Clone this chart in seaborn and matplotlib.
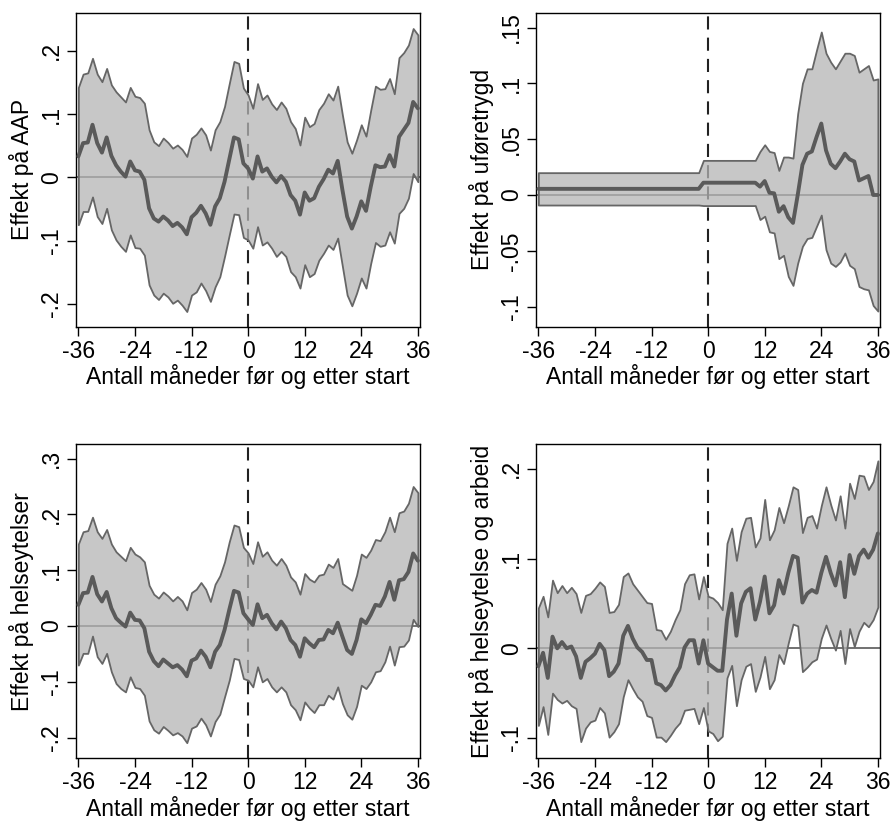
import matplotlib
matplotlib.use("Agg")
import matplotlib.pyplot as plt
import pandas as pd
import seaborn as sns

# Months relative to programme start
months = list(range(-36, 37))

# --- Effekt på AAP ---
aap_est = [0.033, 0.054, 0.055, 0.083, 0.054, 0.039, 0.063, 0.034, 0.019, 0.009, 0.001, 0.025, 0.011, 0.009, -0.004,
           -0.049, -0.065, -0.070, -0.062, -0.068, -0.077, -0.072, -0.079, -0.090,
           -0.063, -0.056, -0.045, -0.057, -0.075, -0.046, -0.033, -0.007, 0.028, 0.063, 0.060, 0.022, 0.014,
           -0.002, 0.033, 0.009, 0.014, 0.001, -0.008, 0.002, -0.007, -0.028, -0.037, -0.059, -0.024,
           -0.037, -0.033, -0.015, -0.003, 0.012, 0.006, 0.026, -0.020, -0.062, -0.081, -0.062, -0.038,
           -0.053, -0.015, 0.019, 0.016, 0.017, 0.035, 0.017, 0.064, 0.075, 0.086, 0.119, 0.109]
aap_hi = [0.142, 0.163, 0.165, 0.188, 0.163, 0.151, 0.172, 0.146, 0.135, 0.127, 0.119, 0.142, 0.128, 0.126, 0.117,
          0.075, 0.056, 0.050, 0.062, 0.055, 0.046, 0.051, 0.044, 0.033,
          0.062, 0.068, 0.078, 0.067, 0.043, 0.075, 0.088, 0.112, 0.148, 0.183, 0.180, 0.141, 0.130,
          0.109, 0.148, 0.123, 0.130, 0.116, 0.107, 0.119, 0.109, 0.088, 0.077, 0.051, 0.095,
          0.080, 0.085, 0.107, 0.117, 0.132, 0.122, 0.144, 0.098, 0.056, 0.038, 0.059, 0.083,
          0.065, 0.106, 0.144, 0.139, 0.140, 0.156, 0.132, 0.189, 0.197, 0.209, 0.235, 0.225]
aap_lo = [-0.075, -0.054, -0.054, -0.031, -0.062, -0.073, -0.049, -0.083, -0.099, -0.109, -0.117, -0.091, -0.111, -0.112, -0.123,
          -0.170, -0.186, -0.193, -0.183, -0.189, -0.199, -0.194, -0.202, -0.212,
          -0.186, -0.181, -0.167, -0.179, -0.196, -0.173, -0.157, -0.125, -0.091, -0.058, -0.059, -0.095, -0.099,
          -0.112, -0.078, -0.107, -0.102, -0.112, -0.125, -0.117, -0.125, -0.149, -0.157, -0.175, -0.138,
          -0.157, -0.152, -0.131, -0.120, -0.107, -0.114, -0.096, -0.141, -0.186, -0.203, -0.183, -0.159,
          -0.175, -0.136, -0.103, -0.109, -0.107, -0.086, -0.104, -0.057, -0.049, -0.033, 0.006, -0.007]

# --- Effekt på uføretrygd ---
ufor_est = [0.0055, 0.0055, 0.0055, 0.0055, 0.0055, 0.0055, 0.0055, 0.0055, 0.0055, 0.0055, 0.0055, 0.0055,
            0.0055, 0.0055, 0.0055, 0.0055, 0.0055, 0.0055, 0.0055, 0.0055, 0.0055, 0.0055, 0.0055, 0.0055,
            0.0055, 0.0055, 0.0055, 0.0055, 0.0055, 0.0055, 0.0055, 0.0055, 0.0055, 0.0055, 0.0055,
            0.011, 0.011, 0.011, 0.011, 0.011, 0.011, 0.011, 0.011, 0.011, 0.011, 0.011, 0.011,
            0.0075, 0.0125, 0.002, 0.0015, -0.015, -0.010, -0.020, -0.025, 0.000, 0.027, 0.037, 0.039,
            0.052, 0.064, 0.040, 0.028, 0.024, 0.030, 0.037, 0.032, 0.030, 0.013, 0.015, 0.017, 0.000, 0.000]
ufor_hi = [0.020, 0.020, 0.020, 0.020, 0.020, 0.020, 0.020, 0.020, 0.020, 0.020, 0.020, 0.020,
           0.020, 0.020, 0.020, 0.020, 0.020, 0.020, 0.020, 0.020, 0.020, 0.020, 0.020, 0.020,
           0.020, 0.020, 0.020, 0.020, 0.020, 0.020, 0.020, 0.020, 0.020, 0.020, 0.020,
           0.031, 0.031, 0.031, 0.031, 0.031, 0.031, 0.031, 0.031, 0.031, 0.031, 0.031, 0.031,
           0.039, 0.045, 0.039, 0.038, 0.022, 0.034, 0.034, 0.033, 0.073, 0.100, 0.113, 0.113,
           0.130, 0.146, 0.127, 0.119, 0.113, 0.120, 0.127, 0.127, 0.125, 0.110, 0.113, 0.116, 0.103, 0.104]
ufor_lo = [-0.009, -0.009, -0.009, -0.009, -0.009, -0.009, -0.009, -0.009, -0.009, -0.009, -0.009, -0.009,
           -0.009, -0.009, -0.009, -0.009, -0.009, -0.009, -0.009, -0.009, -0.009, -0.009, -0.009, -0.009,
           -0.009, -0.009, -0.009, -0.009, -0.009, -0.009, -0.009, -0.009, -0.009, -0.009, -0.009,
           -0.0095, -0.0095, -0.0095, -0.0095, -0.0095, -0.0095, -0.0095, -0.0095, -0.0095, -0.0095, -0.0095, -0.0095,
           -0.022, -0.019, -0.033, -0.034, -0.057, -0.054, -0.073, -0.081, -0.061, -0.046, -0.039, -0.038,
           -0.028, -0.018, -0.049, -0.061, -0.064, -0.060, -0.052, -0.063, -0.066, -0.082, -0.084, -0.085, -0.099, -0.104]

# --- Effekt på helseytelser ---
helse_est = [0.038, 0.059, 0.060, 0.088, 0.057, 0.044, 0.061, 0.032, 0.014, 0.006, -0.001, 0.024, 0.011, 0.010, -0.004,
             -0.046, -0.063, -0.072, -0.060, -0.067, -0.074, -0.070, -0.078, -0.090,
             -0.062, -0.058, -0.044, -0.055, -0.074, -0.046, -0.034, -0.007, 0.029, 0.063, 0.060, 0.023, 0.012,
             0.002, 0.039, 0.014, 0.020, 0.005, -0.006, 0.008, -0.004, -0.025, -0.034, -0.055, -0.022,
             -0.031, -0.038, -0.025, -0.024, -0.007, -0.013, 0.006, -0.019, -0.043, -0.050, -0.025, 0.012,
             0.005, 0.020, 0.038, 0.036, 0.053, 0.079, 0.047, 0.082, 0.084, 0.097, 0.130, 0.117]
helse_hi = [0.147, 0.169, 0.171, 0.195, 0.169, 0.157, 0.173, 0.147, 0.133, 0.125, 0.117, 0.141, 0.129, 0.124, 0.115,
            0.073, 0.057, 0.050, 0.061, 0.054, 0.045, 0.053, 0.045, 0.029,
            0.060, 0.066, 0.078, 0.066, 0.044, 0.075, 0.090, 0.115, 0.151, 0.181, 0.178, 0.141, 0.131,
            0.112, 0.151, 0.125, 0.133, 0.118, 0.109, 0.121, 0.109, 0.088, 0.079, 0.057, 0.094,
            0.084, 0.079, 0.091, 0.093, 0.111, 0.105, 0.121, 0.076, 0.070, 0.064, 0.091, 0.129,
            0.123, 0.136, 0.155, 0.153, 0.169, 0.195, 0.169, 0.203, 0.206, 0.220, 0.250, 0.239]
helse_lo = [-0.070, -0.049, -0.049, -0.018, -0.055, -0.067, -0.049, -0.082, -0.103, -0.112, -0.118, -0.091, -0.110, -0.112, -0.124,
            -0.170, -0.186, -0.192, -0.180, -0.187, -0.195, -0.191, -0.197, -0.209,
            -0.183, -0.179, -0.165, -0.177, -0.197, -0.171, -0.158, -0.127, -0.097, -0.058, -0.060, -0.094, -0.097,
            -0.109, -0.073, -0.100, -0.094, -0.109, -0.118, -0.109, -0.118, -0.141, -0.150, -0.168, -0.136,
            -0.147, -0.155, -0.141, -0.141, -0.124, -0.131, -0.109, -0.139, -0.159, -0.167, -0.144, -0.106,
            -0.112, -0.100, -0.082, -0.080, -0.064, -0.036, -0.070, -0.037, -0.036, -0.025, 0.012, -0.001]

# --- Effekt på helseytelse og arbeid ---
arb_est = [-0.020, -0.005, -0.033, 0.013, 0.000, 0.007, 0.000, 0.002, -0.009, -0.033, -0.015, -0.011, -0.006, 0.005, -0.002,
           -0.031, -0.026, -0.017, 0.014, 0.025, 0.011, 0.001, -0.004, -0.013,
           -0.013, -0.039, -0.041, -0.047, -0.041, -0.030, -0.021, 0.001, 0.009, 0.009, -0.017, 0.009, -0.017,
           -0.021, -0.025, -0.025, 0.032, 0.061, 0.014, 0.050, 0.063, 0.067, 0.032, 0.052, 0.080,
           0.039, 0.048, 0.076, 0.061, 0.084, 0.103, 0.101, 0.051, 0.061, 0.065, 0.062, 0.084,
           0.102, 0.084, 0.070, 0.096, 0.057, 0.104, 0.083, 0.103, 0.110, 0.101, 0.110, 0.128]
arb_hi = [0.045, 0.058, 0.035, 0.076, 0.062, 0.070, 0.062, 0.068, 0.061, 0.040, 0.059, 0.061, 0.067, 0.074, 0.069,
          0.040, 0.041, 0.049, 0.080, 0.084, 0.072, 0.065, 0.058, 0.051,
          0.050, 0.021, 0.020, 0.010, 0.019, 0.032, 0.043, 0.072, 0.082, 0.083, 0.055, 0.080, 0.058,
          0.056, 0.051, 0.043, 0.117, 0.134, 0.098, 0.130, 0.145, 0.146, 0.113, 0.123, 0.166,
          0.121, 0.132, 0.157, 0.140, 0.159, 0.180, 0.177, 0.129, 0.146, 0.148, 0.134, 0.159,
          0.180, 0.160, 0.143, 0.170, 0.134, 0.184, 0.167, 0.193, 0.192, 0.177, 0.186, 0.209]
arb_lo = [-0.086, -0.065, -0.096, -0.050, -0.057, -0.061, -0.058, -0.064, -0.067, -0.104, -0.089, -0.082, -0.080, -0.066, -0.072,
          -0.099, -0.093, -0.084, -0.054, -0.035, -0.045, -0.054, -0.059, -0.075,
          -0.077, -0.099, -0.099, -0.104, -0.097, -0.089, -0.083, -0.069, -0.068, -0.067, -0.084, -0.066, -0.092,
          -0.095, -0.103, -0.098, -0.033, -0.019, -0.064, -0.035, -0.020, -0.017, -0.048, -0.032, -0.009,
          -0.045, -0.035, -0.007, -0.017, 0.006, 0.027, 0.025, -0.026, -0.021, -0.015, -0.012, 0.011,
          0.026, 0.011, -0.002, 0.020, -0.017, 0.022, 0.002, 0.019, 0.029, 0.024, 0.032, 0.046]

x_ticks = [-36, -24, -12, 0, 12, 24, 36]
x_label = "Antall måneder før og etter start"

panels = [
    ("Effekt på AAP", aap_est, aap_lo, aap_hi, [-0.2, -0.1, 0, 0.1, 0.2], (-0.236, 0.260)),
    ("Effekt på uføretrygd", ufor_est, ufor_lo, ufor_hi, [-0.1, -0.05, 0, 0.05, 0.1, 0.15], (-0.118, 0.1633)),
    ("Effekt på helseytelser", helse_est, helse_lo, helse_hi, [-0.2, -0.1, 0, 0.1, 0.2, 0.3], (-0.237, 0.3256)),
    ("Effekt på helseytelse og arbeid", arb_est, arb_lo, arb_hi, [-0.1, 0, 0.1, 0.2], (-0.1226, 0.2274)),
]


def stata_label(v):
    if abs(v) < 1e-12:
        return "0"
    s = f"{v:g}"
    return s.replace("0.", ".")


sns.set_theme(style="ticks")
plt.rcParams["font.family"] = ["Liberation Sans", "DejaVu Sans"]
plt.rcParams["font.size"] = 16.5
for key in ("text.color", "axes.labelcolor", "xtick.color", "ytick.color",
            "xtick.labelcolor", "ytick.labelcolor"):
    plt.rcParams[key] = "black"

W, H = 891, 823
fig = plt.figure(figsize=(W / 100, H / 100), dpi=100)

# axes boxes in pixels: (left, top, right, bottom)
boxes = [(76, 12.7, 420, 326.7), (536, 12.7, 880, 326.7),
         (76, 444.3, 420, 758.3), (536, 444.3, 880, 758.3)]

line_col = "#5a5a5a"
edge_col = "#666666"

for (ylab, est, lo, hi, yticks, ylim), (l, t, r, b) in zip(panels, boxes):
    ax = fig.add_axes([l / W, 1 - b / H, (r - l) / W, (b - t) / H])
    df = pd.DataFrame({"month": months, "est": est, "lo": lo, "hi": hi})

    # reference lines sit under the translucent band
    ax.axhline(0, color="#4a4a4a", lw=1.1, zorder=1)
    ax.axvline(0, color="#222222", lw=1.5, dashes=(6.3, 3.9), zorder=1)

    ax.fill_between(df["month"], df["lo"], df["hi"],
                    facecolor=(0.71, 0.71, 0.71, 0.75), edgecolor=edge_col,
                    linewidth=1.3, zorder=2)
    sns.lineplot(data=df, x="month", y="est", color=line_col, linewidth=2.8,
                 ax=ax, zorder=4)

    ax.set_xlim(-36.5, 36.45)
    ax.set_ylim(*ylim)
    ax.set_xticks(x_ticks)
    ax.set_xticklabels([str(v) for v in x_ticks])
    ax.set_yticks(yticks)
    ax.set_yticklabels([stata_label(v) for v in yticks], rotation=90, va="center")
    ax.tick_params(axis="both", direction="out", length=6.5, width=1.0,
                   labelsize=16.5, color="black", labelcolor="black", pad=3)
    for sp in ax.spines.values():
        sp.set_visible(True)
        sp.set_color("black")
        sp.set_linewidth(1.0)
    ax.set_xlabel(x_label, fontsize=16.5, labelpad=1, color="black")
    ax.set_ylabel(ylab, fontsize=16.5, labelpad=4, color="black")
    ax.grid(False)

fig.savefig("out.png", dpi=100, facecolor="white")
